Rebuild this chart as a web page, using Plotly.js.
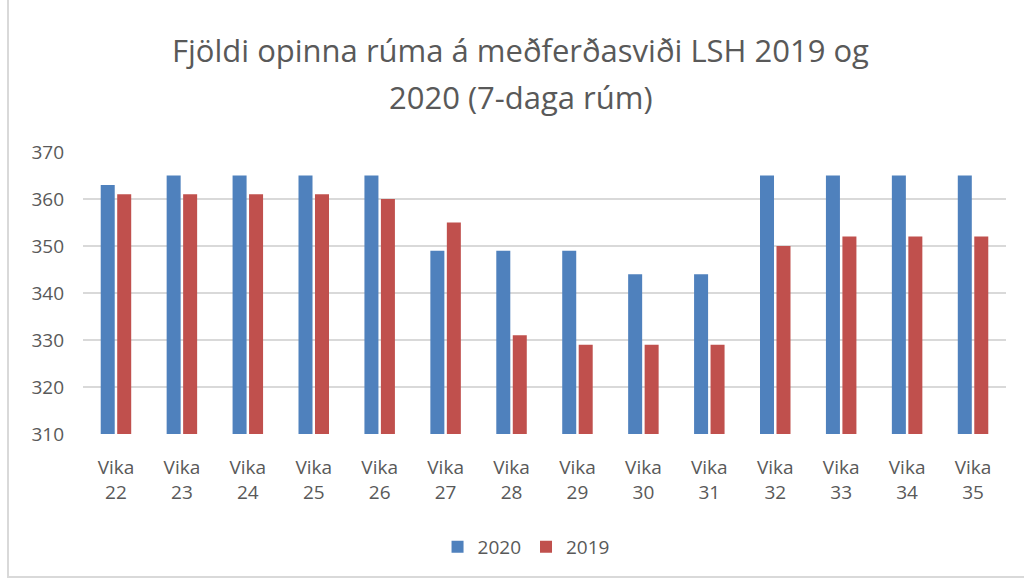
<!DOCTYPE html>
<html>
<head>
<meta charset="utf-8">
<script src="https://cdn.plot.ly/plotly-3.0.1.min.js"></script>
<style>
html,body{margin:0;padding:0;background:#fff;}
#frame{position:absolute;left:7px;top:0;width:1017px;height:578px;border-left:2px solid #d9d9d9;border-bottom:2px solid #d9d9d9;box-sizing:border-box;}
#chart{position:absolute;left:0;top:0;width:1024px;height:581px;}
</style>
</head>
<body>
<div id="frame"></div>
<div id="chart"></div>
<script>
const weeks = ["Vika<br>22","Vika<br>23","Vika<br>24","Vika<br>25","Vika<br>26","Vika<br>27","Vika<br>28","Vika<br>29","Vika<br>30","Vika<br>31","Vika<br>32","Vika<br>33","Vika<br>34","Vika<br>35"];
const values2020 = [363,365,365,365,365,349,349,349,344,344,365,365,365,365];
const values2019 = [361,361,361,361,360,355,331,329,329,329,350,352,352,352];
const tickVals = [310,320,330,340,350,360,370];
const titleLines = ['Fjöldi opinna rúma á meðferðasviði LSH 2019 og', '2020 (7-daga rúm)'];

const font = "Open Sans, Liberation Sans, sans-serif";
const data = [
  {type:'bar', name:'2020', x:weeks, y:values2020, marker:{color:'#4f81bd'}},
  {type:'bar', name:'2019', x:weeks, y:values2019, marker:{color:'#c0504d'}}
];
const layout = {
  width:1024, height:581,
  paper_bgcolor:'rgba(0,0,0,0)', plot_bgcolor:'rgba(0,0,0,0)',
  margin:{l:83, r:18, t:152, b:147},
  annotations: titleLines.map((t, i) => ({
    text:t, xref:'paper', yref:'paper', x:0.474, xanchor:'center',
    y:1 + (102 - 47*i) / 282, yanchor:'middle', showarrow:false,
    font:{family:font, size:31, color:'#595959'}
  })),
  barmode:'group', bargap:0.5, bargroupgap:0.15,
  xaxis:{tickfont:{family:font, size:19, color:'#595959'}, showgrid:false, showline:false, ticks:'', automargin:false, ticklabelstandoff:20},
  yaxis:{range:[310,370], tickvals:tickVals, tickfont:{family:font, size:19, color:'#595959'}, gridcolor:'#d9d9d9', gridwidth:2, zeroline:false, showline:false, ticks:'', ticklabelstandoff:18, automargin:false},
  legend:{orientation:'h', x:0.48, xanchor:'center', y:-0.4, yanchor:'middle', font:{family:font, size:19, color:'#595959'}, itemwidth:30},
  showlegend:true
};
Plotly.newPlot('chart', data, layout, {displayModeBar:false, staticPlot:true});
</script>
</body>
</html>
